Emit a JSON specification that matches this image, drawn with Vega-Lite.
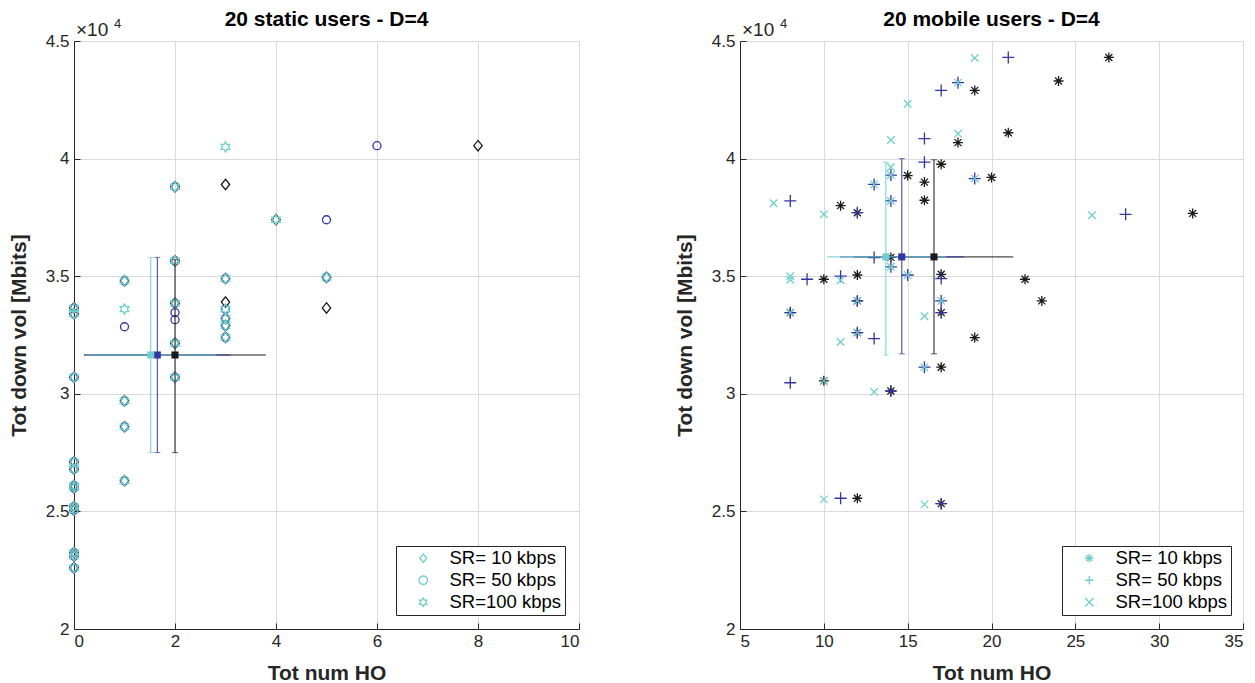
{
  "$schema": "https://vega.github.io/schema/vega-lite/v6.json",
  "background": "white",
  "padding": {"left": 8, "top": 9, "right": 4, "bottom": 0},
  "spacing": 94,
  "resolve": {
    "scale": {"color": "independent", "shape": "independent", "size": "independent"},
    "legend": {"color": "independent", "shape": "independent", "size": "independent"}
  },
  "config": {
    "font": "Liberation Sans",
    "view": {"stroke": null},
    "axis": {
      "domainColor": "#262626", "domainWidth": 1,
      "tickColor": "#262626", "tickSize": -6,
      "labelColor": "#262626", "labelFont": "Liberation Sans", "labelFontSize": 17,
      "titleColor": "#262626", "titleFont": "Liberation Sans", "titleFontSize": 21, "titleFontWeight": "bold",
      "grid": true, "gridColor": "#dadada", "gridWidth": 1
    },
    "axisX": {"labelPadding": 10, "titlePadding": 13},
    "axisY": {"labelPadding": 11, "titlePadding": 16},
    "title": {"font": "Liberation Sans", "fontSize": 21, "fontWeight": "bold", "color": "#000000", "offset": -12, "anchor": "middle"},
    "legend": {
      "strokeColor": "#262626", "fillColor": "white", "padding": 3,
      "labelFont": "Liberation Sans", "labelFontSize": 18.5, "labelColor": "#000000",
      "symbolStrokeColor": "#6fcfcf", "symbolFillColor": "transparent", "symbolStrokeWidth": 1.3, "symbolSize": 72, "rowPadding": 3, "labelOffset": 17, "symbolOffset": 15
    }
  },
  "datasets": {
    "static": [
      {"sr": "SR= 10 kbps", "ho": 0, "vol": 33650}, {"sr": "SR= 10 kbps", "ho": 0, "vol": 33400}, {"sr": "SR= 10 kbps", "ho": 0, "vol": 30700}, {"sr": "SR= 10 kbps", "ho": 0, "vol": 27100}, {"sr": "SR= 10 kbps", "ho": 0, "vol": 26800}, {"sr": "SR= 10 kbps", "ho": 0, "vol": 26100}, {"sr": "SR= 10 kbps", "ho": 0, "vol": 26000}, {"sr": "SR= 10 kbps", "ho": 0, "vol": 25200}, {"sr": "SR= 10 kbps", "ho": 0, "vol": 25050}, {"sr": "SR= 10 kbps", "ho": 0, "vol": 23250}, {"sr": "SR= 10 kbps", "ho": 0, "vol": 23100}, {"sr": "SR= 10 kbps", "ho": 0, "vol": 22600},
      {"sr": "SR= 10 kbps", "ho": 1, "vol": 34800}, {"sr": "SR= 10 kbps", "ho": 1, "vol": 29700}, {"sr": "SR= 10 kbps", "ho": 1, "vol": 28600}, {"sr": "SR= 10 kbps", "ho": 1, "vol": 26300},
      {"sr": "SR= 10 kbps", "ho": 2, "vol": 38800}, {"sr": "SR= 10 kbps", "ho": 2, "vol": 35650}, {"sr": "SR= 10 kbps", "ho": 2, "vol": 33850}, {"sr": "SR= 10 kbps", "ho": 2, "vol": 32150}, {"sr": "SR= 10 kbps", "ho": 2, "vol": 30700},
      {"sr": "SR= 10 kbps", "ho": 3, "vol": 38900}, {"sr": "SR= 10 kbps", "ho": 3, "vol": 34900}, {"sr": "SR= 10 kbps", "ho": 3, "vol": 33900}, {"sr": "SR= 10 kbps", "ho": 3, "vol": 33200}, {"sr": "SR= 10 kbps", "ho": 3, "vol": 32900}, {"sr": "SR= 10 kbps", "ho": 3, "vol": 32400},
      {"sr": "SR= 10 kbps", "ho": 4, "vol": 37400}, {"sr": "SR= 10 kbps", "ho": 5, "vol": 34950}, {"sr": "SR= 10 kbps", "ho": 5, "vol": 33650}, {"sr": "SR= 10 kbps", "ho": 8, "vol": 40550},
      {"sr": "SR= 50 kbps", "ho": 0, "vol": 33650}, {"sr": "SR= 50 kbps", "ho": 0, "vol": 33400}, {"sr": "SR= 50 kbps", "ho": 0, "vol": 30700}, {"sr": "SR= 50 kbps", "ho": 0, "vol": 27100}, {"sr": "SR= 50 kbps", "ho": 0, "vol": 26800}, {"sr": "SR= 50 kbps", "ho": 0, "vol": 26100}, {"sr": "SR= 50 kbps", "ho": 0, "vol": 26000}, {"sr": "SR= 50 kbps", "ho": 0, "vol": 25200}, {"sr": "SR= 50 kbps", "ho": 0, "vol": 25050}, {"sr": "SR= 50 kbps", "ho": 0, "vol": 23250}, {"sr": "SR= 50 kbps", "ho": 0, "vol": 23100}, {"sr": "SR= 50 kbps", "ho": 0, "vol": 22600},
      {"sr": "SR= 50 kbps", "ho": 1, "vol": 34800}, {"sr": "SR= 50 kbps", "ho": 1, "vol": 32850}, {"sr": "SR= 50 kbps", "ho": 1, "vol": 29700}, {"sr": "SR= 50 kbps", "ho": 1, "vol": 28600}, {"sr": "SR= 50 kbps", "ho": 1, "vol": 26300},
      {"sr": "SR= 50 kbps", "ho": 2, "vol": 38800}, {"sr": "SR= 50 kbps", "ho": 2, "vol": 35650}, {"sr": "SR= 50 kbps", "ho": 2, "vol": 33850}, {"sr": "SR= 50 kbps", "ho": 2, "vol": 33450}, {"sr": "SR= 50 kbps", "ho": 2, "vol": 33150}, {"sr": "SR= 50 kbps", "ho": 2, "vol": 32150}, {"sr": "SR= 50 kbps", "ho": 2, "vol": 30700},
      {"sr": "SR= 50 kbps", "ho": 3, "vol": 34900}, {"sr": "SR= 50 kbps", "ho": 3, "vol": 33600}, {"sr": "SR= 50 kbps", "ho": 3, "vol": 33200}, {"sr": "SR= 50 kbps", "ho": 3, "vol": 32900}, {"sr": "SR= 50 kbps", "ho": 3, "vol": 32400},
      {"sr": "SR= 50 kbps", "ho": 5, "vol": 37400}, {"sr": "SR= 50 kbps", "ho": 5, "vol": 34950}, {"sr": "SR= 50 kbps", "ho": 6, "vol": 40550},
      {"sr": "SR=100 kbps", "ho": 0, "vol": 33650}, {"sr": "SR=100 kbps", "ho": 0, "vol": 33400}, {"sr": "SR=100 kbps", "ho": 0, "vol": 30700}, {"sr": "SR=100 kbps", "ho": 0, "vol": 27100}, {"sr": "SR=100 kbps", "ho": 0, "vol": 26800}, {"sr": "SR=100 kbps", "ho": 0, "vol": 26100}, {"sr": "SR=100 kbps", "ho": 0, "vol": 26000}, {"sr": "SR=100 kbps", "ho": 0, "vol": 25200}, {"sr": "SR=100 kbps", "ho": 0, "vol": 25050}, {"sr": "SR=100 kbps", "ho": 0, "vol": 23250}, {"sr": "SR=100 kbps", "ho": 0, "vol": 23100}, {"sr": "SR=100 kbps", "ho": 0, "vol": 22600},
      {"sr": "SR=100 kbps", "ho": 1, "vol": 34800}, {"sr": "SR=100 kbps", "ho": 1, "vol": 33600}, {"sr": "SR=100 kbps", "ho": 1, "vol": 29700}, {"sr": "SR=100 kbps", "ho": 1, "vol": 28600}, {"sr": "SR=100 kbps", "ho": 1, "vol": 26300},
      {"sr": "SR=100 kbps", "ho": 2, "vol": 38800}, {"sr": "SR=100 kbps", "ho": 2, "vol": 35650}, {"sr": "SR=100 kbps", "ho": 2, "vol": 33850}, {"sr": "SR=100 kbps", "ho": 2, "vol": 32150}, {"sr": "SR=100 kbps", "ho": 2, "vol": 30700},
      {"sr": "SR=100 kbps", "ho": 3, "vol": 40500}, {"sr": "SR=100 kbps", "ho": 3, "vol": 34900}, {"sr": "SR=100 kbps", "ho": 3, "vol": 33600}, {"sr": "SR=100 kbps", "ho": 3, "vol": 33200}, {"sr": "SR=100 kbps", "ho": 3, "vol": 32900}, {"sr": "SR=100 kbps", "ho": 3, "vol": 32400},
      {"sr": "SR=100 kbps", "ho": 4, "vol": 37400}, {"sr": "SR=100 kbps", "ho": 5, "vol": 34950}
    ],
    "mobile": [
      {"sr": "SR= 10 kbps", "ho": 27, "vol": 44300}, {"sr": "SR= 10 kbps", "ho": 24, "vol": 43300}, {"sr": "SR= 10 kbps", "ho": 19, "vol": 42900}, {"sr": "SR= 10 kbps", "ho": 18, "vol": 40680}, {"sr": "SR= 10 kbps", "ho": 21, "vol": 41100}, {"sr": "SR= 10 kbps", "ho": 17, "vol": 39760}, {"sr": "SR= 10 kbps", "ho": 15, "vol": 39280}, {"sr": "SR= 10 kbps", "ho": 16, "vol": 39000}, {"sr": "SR= 10 kbps", "ho": 20, "vol": 39200}, {"sr": "SR= 10 kbps", "ho": 11, "vol": 38000}, {"sr": "SR= 10 kbps", "ho": 12, "vol": 37700}, {"sr": "SR= 10 kbps", "ho": 32, "vol": 37670}, {"sr": "SR= 10 kbps", "ho": 16, "vol": 38230}, {"sr": "SR= 10 kbps", "ho": 14, "vol": 35800}, {"sr": "SR= 10 kbps", "ho": 17, "vol": 35080}, {"sr": "SR= 10 kbps", "ho": 10, "vol": 34870}, {"sr": "SR= 10 kbps", "ho": 12, "vol": 35050}, {"sr": "SR= 10 kbps", "ho": 22, "vol": 34870}, {"sr": "SR= 10 kbps", "ho": 23, "vol": 33950}, {"sr": "SR= 10 kbps", "ho": 12, "vol": 33950}, {"sr": "SR= 10 kbps", "ho": 17, "vol": 33450}, {"sr": "SR= 10 kbps", "ho": 8, "vol": 33450}, {"sr": "SR= 10 kbps", "ho": 19, "vol": 32390}, {"sr": "SR= 10 kbps", "ho": 12, "vol": 32600}, {"sr": "SR= 10 kbps", "ho": 17, "vol": 31130}, {"sr": "SR= 10 kbps", "ho": 10, "vol": 30550}, {"sr": "SR= 10 kbps", "ho": 14, "vol": 30120}, {"sr": "SR= 10 kbps", "ho": 12, "vol": 25560}, {"sr": "SR= 10 kbps", "ho": 17, "vol": 25330},
      {"sr": "SR= 50 kbps", "ho": 21, "vol": 44300}, {"sr": "SR= 50 kbps", "ho": 17, "vol": 42900}, {"sr": "SR= 50 kbps", "ho": 18, "vol": 43230}, {"sr": "SR= 50 kbps", "ho": 16, "vol": 40850}, {"sr": "SR= 50 kbps", "ho": 16, "vol": 39850}, {"sr": "SR= 50 kbps", "ho": 14, "vol": 39300}, {"sr": "SR= 50 kbps", "ho": 13, "vol": 38900}, {"sr": "SR= 50 kbps", "ho": 14, "vol": 38200}, {"sr": "SR= 50 kbps", "ho": 8, "vol": 38200}, {"sr": "SR= 50 kbps", "ho": 12, "vol": 37700}, {"sr": "SR= 50 kbps", "ho": 19, "vol": 39150}, {"sr": "SR= 50 kbps", "ho": 28, "vol": 37630}, {"sr": "SR= 50 kbps", "ho": 13, "vol": 35790}, {"sr": "SR= 50 kbps", "ho": 14, "vol": 35400}, {"sr": "SR= 50 kbps", "ho": 15, "vol": 35050}, {"sr": "SR= 50 kbps", "ho": 17, "vol": 34900}, {"sr": "SR= 50 kbps", "ho": 9, "vol": 34870}, {"sr": "SR= 50 kbps", "ho": 11, "vol": 35000}, {"sr": "SR= 50 kbps", "ho": 17, "vol": 33950}, {"sr": "SR= 50 kbps", "ho": 12, "vol": 33950}, {"sr": "SR= 50 kbps", "ho": 17, "vol": 33450}, {"sr": "SR= 50 kbps", "ho": 8, "vol": 33450}, {"sr": "SR= 50 kbps", "ho": 12, "vol": 32600}, {"sr": "SR= 50 kbps", "ho": 13, "vol": 32350}, {"sr": "SR= 50 kbps", "ho": 16, "vol": 31130}, {"sr": "SR= 50 kbps", "ho": 8, "vol": 30470}, {"sr": "SR= 50 kbps", "ho": 14, "vol": 30120}, {"sr": "SR= 50 kbps", "ho": 11, "vol": 25560}, {"sr": "SR= 50 kbps", "ho": 17, "vol": 25330},
      {"sr": "SR=100 kbps", "ho": 19, "vol": 44280}, {"sr": "SR=100 kbps", "ho": 18, "vol": 43230}, {"sr": "SR=100 kbps", "ho": 15, "vol": 42330}, {"sr": "SR=100 kbps", "ho": 14, "vol": 40790}, {"sr": "SR=100 kbps", "ho": 18, "vol": 41060}, {"sr": "SR=100 kbps", "ho": 14, "vol": 39640}, {"sr": "SR=100 kbps", "ho": 14, "vol": 39300}, {"sr": "SR=100 kbps", "ho": 13, "vol": 38900}, {"sr": "SR=100 kbps", "ho": 14, "vol": 38200}, {"sr": "SR=100 kbps", "ho": 7, "vol": 38100}, {"sr": "SR=100 kbps", "ho": 10, "vol": 37630}, {"sr": "SR=100 kbps", "ho": 19, "vol": 39150}, {"sr": "SR=100 kbps", "ho": 26, "vol": 37590}, {"sr": "SR=100 kbps", "ho": 14, "vol": 35400}, {"sr": "SR=100 kbps", "ho": 15, "vol": 35050}, {"sr": "SR=100 kbps", "ho": 8, "vol": 35000}, {"sr": "SR=100 kbps", "ho": 8, "vol": 34850}, {"sr": "SR=100 kbps", "ho": 11, "vol": 34830}, {"sr": "SR=100 kbps", "ho": 17, "vol": 33950}, {"sr": "SR=100 kbps", "ho": 12, "vol": 33950}, {"sr": "SR=100 kbps", "ho": 16, "vol": 33300}, {"sr": "SR=100 kbps", "ho": 8, "vol": 33450}, {"sr": "SR=100 kbps", "ho": 12, "vol": 32600}, {"sr": "SR=100 kbps", "ho": 11, "vol": 32200}, {"sr": "SR=100 kbps", "ho": 16, "vol": 31130}, {"sr": "SR=100 kbps", "ho": 10, "vol": 30550}, {"sr": "SR=100 kbps", "ho": 13, "vol": 30080}, {"sr": "SR=100 kbps", "ho": 10, "vol": 25510}, {"sr": "SR=100 kbps", "ho": 16, "vol": 25300}
    ],
    "mstatic": [
      {"sr": "SR= 10 kbps", "ho": 2.0, "vol": 31650, "ho_lo": 0.2, "ho_hi": 3.8, "vol_lo": 27500, "vol_hi": 35700},
      {"sr": "SR= 50 kbps", "ho": 1.65, "vol": 31650, "ho_lo": 0.2, "ho_hi": 3.1, "vol_lo": 27500, "vol_hi": 35800},
      {"sr": "SR=100 kbps", "ho": 1.52, "vol": 31650, "ho_lo": 0.22, "ho_hi": 2.82, "vol_lo": 27500, "vol_hi": 35800}
    ],
    "mmobile": [
      {"sr": "SR= 10 kbps", "ho": 16.57, "vol": 35820, "ho_lo": 11.8, "ho_hi": 21.3, "vol_lo": 31700, "vol_hi": 39950},
      {"sr": "SR= 50 kbps", "ho": 14.65, "vol": 35820, "ho_lo": 10.95, "ho_hi": 18.35, "vol_lo": 31700, "vol_hi": 40000},
      {"sr": "SR=100 kbps", "ho": 13.7, "vol": 35820, "ho_lo": 10.2, "ho_hi": 17.3, "vol_lo": 31650, "vol_hi": 39850}
    ],
    "exps": [{"ho": 0, "vol": 45000}],
    "expm": [{"ho": 5, "vol": 45000}]
  },
  "hconcat": [
    {
      "width": 505, "height": 588,
      "title": {"text": "20 static users - D=4"},
      "layer": [
        {
          "data": {"name": "static"},
          "mark": {"type": "point", "filled": false, "strokeWidth": 1.3, "opacity": 1},
          "encoding": {
            "x": {"field": "ho", "type": "quantitative", "scale": {"domain": [0, 10], "nice": false}, "axis": {"title": "Tot num HO", "values": [0, 2, 4, 6, 8, 10]}},
            "y": {"field": "vol", "type": "quantitative", "scale": {"domain": [20000, 45000], "nice": false}, "axis": {"title": "Tot down vol [Mbits]", "values": [20000, 25000, 30000, 35000, 40000, 45000], "labelExpr": "toString(datum.value/10000)"}},
            "color": {"field": "sr", "type": "nominal", "scale": {"range": ["#1a1a1a", "#3535a0", "#6fcfcf"]}, "legend": null},
            "size": {"field": "sr", "type": "nominal", "scale": {"type": "ordinal", "range": [110, 64, 100]}, "legend": null},
            "shape": {"field": "sr", "type": "nominal", "scale": {"domain": ["SR= 10 kbps", "SR= 50 kbps", "SR=100 kbps"], "range": ["M0,-1L0.8,0L0,1L-0.8,0Z", "circle", "M0,-1L0.289,-0.5L0.866,-0.5L0.577,0L0.866,0.5L0.289,0.5L0,1L-0.289,0.5L-0.866,0.5L-0.577,0L-0.866,-0.5L-0.289,-0.5Z"]}, "legend": {"title": null, "orient": "none", "legendX": 322, "legendY": 505, "symbolStrokeColor": "#6fcfcf", "labelExpr": "datum.label + '   '"}}
          }
        },
        {
          "data": {"name": "mstatic"},
          "mark": {"type": "rule", "strokeWidth": 1},
          "encoding": {
            "x": {"field": "ho", "type": "quantitative"},
            "y": {"field": "vol_lo", "type": "quantitative"},
            "y2": {"field": "vol_hi"},
            "color": {"field": "sr", "type": "nominal", "legend": null}
          }
        },
        {
          "data": {"name": "mstatic"},
          "mark": {"type": "rule", "strokeWidth": 1},
          "encoding": {
            "y": {"field": "vol", "type": "quantitative"},
            "x": {"field": "ho_lo", "type": "quantitative"},
            "x2": {"field": "ho_hi"},
            "color": {"field": "sr", "type": "nominal", "legend": null}
          }
        },
        {
          "data": {"name": "mstatic"},
          "mark": {"type": "tick", "orient": "horizontal", "size": 6, "thickness": 1},
          "encoding": {
            "x": {"field": "ho", "type": "quantitative"},
            "y": {"field": "vol_lo", "type": "quantitative"},
            "color": {"field": "sr", "type": "nominal", "legend": null}
          }
        },
        {
          "data": {"name": "mstatic"},
          "mark": {"type": "tick", "orient": "horizontal", "size": 6, "thickness": 1},
          "encoding": {
            "x": {"field": "ho", "type": "quantitative"},
            "y": {"field": "vol_hi", "type": "quantitative"},
            "color": {"field": "sr", "type": "nominal", "legend": null}
          }
        },
        {
          "data": {"name": "mstatic"},
          "mark": {"type": "square", "filled": true, "size": 50, "opacity": 1},
          "encoding": {
            "x": {"field": "ho", "type": "quantitative"},
            "y": {"field": "vol", "type": "quantitative"},
            "color": {"field": "sr", "type": "nominal", "legend": null}
          }
        },
        {
          "data": {"name": "exps"},
          "mark": {"type": "text", "text": "×10", "align": "left", "baseline": "alphabetic", "fontSize": 19, "dx": 2, "dy": -5, "color": "#262626"},
          "encoding": {
            "x": {"field": "ho", "type": "quantitative"},
            "y": {"field": "vol", "type": "quantitative"}
          }
        },
        {
          "data": {"name": "exps"},
          "mark": {"type": "text", "text": "4", "align": "left", "baseline": "alphabetic", "fontSize": 13, "dx": 40, "dy": -13, "color": "#262626"},
          "encoding": {
            "x": {"field": "ho", "type": "quantitative"},
            "y": {"field": "vol", "type": "quantitative"}
          }
        }
      ]
    },
    {
      "width": 503, "height": 588,
      "title": {"text": "20 mobile users - D=4"},
      "layer": [
        {
          "data": {"name": "mobile"},
          "mark": {"type": "point", "filled": false, "strokeWidth": 1.3, "opacity": 1},
          "encoding": {
            "x": {"field": "ho", "type": "quantitative", "scale": {"domain": [5, 35], "nice": false}, "axis": {"title": "Tot num HO", "values": [5, 10, 15, 20, 25, 30, 35]}},
            "y": {"field": "vol", "type": "quantitative", "scale": {"domain": [20000, 45000], "nice": false}, "axis": {"title": "Tot down vol [Mbits]", "values": [20000, 25000, 30000, 35000, 40000, 45000], "labelExpr": "toString(datum.value/10000)"}},
            "color": {"field": "sr", "type": "nominal", "scale": {"range": ["#1a1a1a", "#3535a0", "#6fcfcf"]}, "legend": null},
            "size": {"field": "sr", "type": "nominal", "scale": {"type": "ordinal", "range": [100, 144, 56]}, "legend": null},
            "shape": {"field": "sr", "type": "nominal", "scale": {"domain": ["SR= 10 kbps", "SR= 50 kbps", "SR=100 kbps"], "range": ["M-1,0L1,0M0,-1L0,1M-0.7,-0.7L0.7,0.7M-0.7,0.7L0.7,-0.7", "M-1,0L1,0M0,-1L0,1", "M-1,-1L1,1M-1,1L1,-1"]}, "legend": {"title": null, "orient": "none", "legendX": 322, "legendY": 505, "symbolStrokeColor": "#6fcfcf", "labelExpr": "datum.label + '   '"}}
          }
        },
        {
          "data": {"name": "mmobile"},
          "mark": {"type": "rule", "strokeWidth": 1},
          "encoding": {
            "x": {"field": "ho", "type": "quantitative"},
            "y": {"field": "vol_lo", "type": "quantitative"},
            "y2": {"field": "vol_hi"},
            "color": {"field": "sr", "type": "nominal", "legend": null}
          }
        },
        {
          "data": {"name": "mmobile"},
          "mark": {"type": "rule", "strokeWidth": 1},
          "encoding": {
            "y": {"field": "vol", "type": "quantitative"},
            "x": {"field": "ho_lo", "type": "quantitative"},
            "x2": {"field": "ho_hi"},
            "color": {"field": "sr", "type": "nominal", "legend": null}
          }
        },
        {
          "data": {"name": "mmobile"},
          "mark": {"type": "tick", "orient": "horizontal", "size": 6, "thickness": 1},
          "encoding": {
            "x": {"field": "ho", "type": "quantitative"},
            "y": {"field": "vol_lo", "type": "quantitative"},
            "color": {"field": "sr", "type": "nominal", "legend": null}
          }
        },
        {
          "data": {"name": "mmobile"},
          "mark": {"type": "tick", "orient": "horizontal", "size": 6, "thickness": 1},
          "encoding": {
            "x": {"field": "ho", "type": "quantitative"},
            "y": {"field": "vol_hi", "type": "quantitative"},
            "color": {"field": "sr", "type": "nominal", "legend": null}
          }
        },
        {
          "data": {"name": "mmobile"},
          "mark": {"type": "square", "filled": true, "size": 50, "opacity": 1},
          "encoding": {
            "x": {"field": "ho", "type": "quantitative"},
            "y": {"field": "vol", "type": "quantitative"},
            "color": {"field": "sr", "type": "nominal", "legend": null}
          }
        },
        {
          "data": {"name": "expm"},
          "mark": {"type": "text", "text": "×10", "align": "left", "baseline": "alphabetic", "fontSize": 19, "dx": 2, "dy": -5, "color": "#262626"},
          "encoding": {
            "x": {"field": "ho", "type": "quantitative"},
            "y": {"field": "vol", "type": "quantitative"}
          }
        },
        {
          "data": {"name": "expm"},
          "mark": {"type": "text", "text": "4", "align": "left", "baseline": "alphabetic", "fontSize": 13, "dx": 40, "dy": -13, "color": "#262626"},
          "encoding": {
            "x": {"field": "ho", "type": "quantitative"},
            "y": {"field": "vol", "type": "quantitative"}
          }
        }
      ]
    }
  ]
}
